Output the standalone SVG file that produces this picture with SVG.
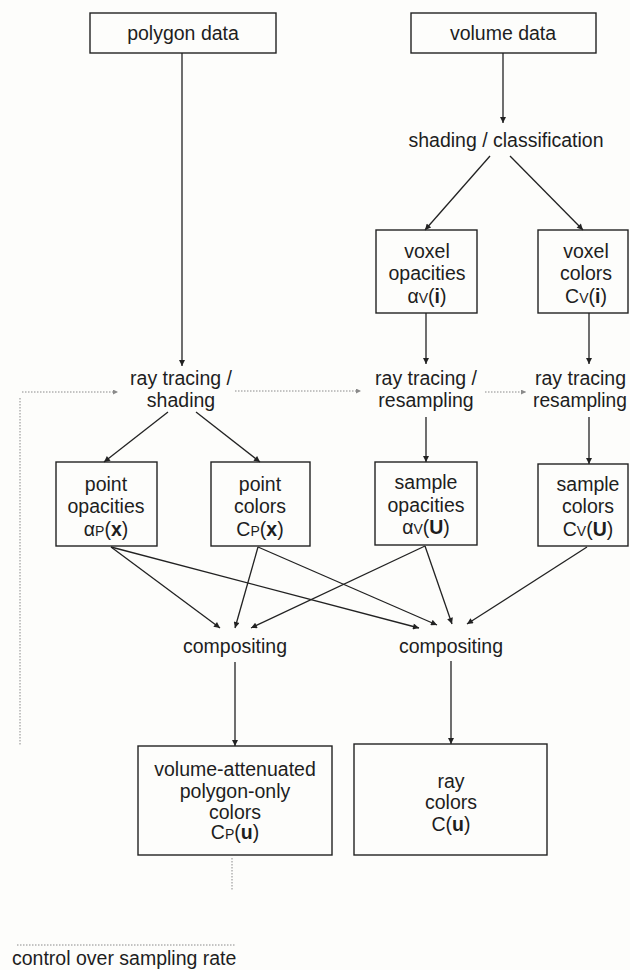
<svg xmlns="http://www.w3.org/2000/svg" width="630" height="970" viewBox="0 0 630 970">
  <style>
    text { font-family: "Liberation Sans", Arial, Helvetica, sans-serif; font-size: 19.5px; fill: #1e1e1e; text-anchor: middle; }
    .box { fill: none; stroke: #222; stroke-width: 1.4; }
    .edge { fill: none; stroke: #222; stroke-width: 1.3; }
    .dot { fill: none; stroke: #8a8a8a; stroke-width: 1; stroke-dasharray: 1.5 1.5; }
    .sub { font-size: 14px; }
    .b { font-weight: bold; }
  </style>
  <defs>
    <marker id="arr" viewBox="0 0 10 10" refX="10" refY="5" markerWidth="9" markerHeight="6" markerUnits="userSpaceOnUse" orient="auto">
      <path d="M0,0 L10,5 L0,10 z" fill="#222"/>
    </marker>
    <marker id="arrg" viewBox="0 0 10 10" refX="10" refY="5" markerWidth="6" markerHeight="5" markerUnits="userSpaceOnUse" orient="auto">
      <path d="M0,0 L10,5 L0,10 z" fill="#8a8a8a"/>
    </marker>
  </defs>
  <rect width="630" height="970" fill="#fdfdfb"/>

  <g id="connectors">
    <line class="edge" x1="182" y1="53" x2="182" y2="366" marker-end="url(#arr)"/>
    <line class="edge" x1="503" y1="53" x2="503" y2="123" marker-end="url(#arr)"/>
    <line class="edge" x1="490" y1="156" x2="425" y2="230" marker-end="url(#arr)"/>
    <line class="edge" x1="510" y1="156" x2="583" y2="230" marker-end="url(#arr)"/>
    <line class="edge" x1="426" y1="313" x2="426" y2="364" marker-end="url(#arr)"/>
    <line class="edge" x1="589" y1="313" x2="589" y2="364" marker-end="url(#arr)"/>
    <line class="edge" x1="168" y1="412" x2="104" y2="462" marker-end="url(#arr)"/>
    <line class="edge" x1="196" y1="412" x2="260" y2="462" marker-end="url(#arr)"/>
    <line class="edge" x1="426" y1="417" x2="426" y2="462" marker-end="url(#arr)"/>
    <line class="edge" x1="589" y1="417" x2="589" y2="464" marker-end="url(#arr)"/>
    <line class="edge" x1="111" y1="547" x2="220" y2="628" marker-end="url(#arr)"/>
    <line class="edge" x1="111" y1="547" x2="419" y2="628" marker-end="url(#arr)"/>
    <line class="edge" x1="258" y1="547" x2="235" y2="628" marker-end="url(#arr)"/>
    <line class="edge" x1="258" y1="547" x2="437" y2="625" marker-end="url(#arr)"/>
    <line class="edge" x1="425" y1="546" x2="251" y2="628" marker-end="url(#arr)"/>
    <line class="edge" x1="425" y1="546" x2="452" y2="624" marker-end="url(#arr)"/>
    <line class="edge" x1="587" y1="547" x2="467" y2="624" marker-end="url(#arr)"/>
    <line class="edge" x1="235" y1="662" x2="235" y2="746" marker-end="url(#arr)"/>
    <line class="edge" x1="451" y1="661" x2="451" y2="744" marker-end="url(#arr)"/>
    <line class="dot" x1="22" y1="392" x2="118" y2="392" marker-end="url(#arrg)"/>
    <line class="dot" x1="235" y1="391" x2="361" y2="391" marker-end="url(#arrg)"/>
    <line class="dot" x1="485" y1="392" x2="526" y2="392" marker-end="url(#arrg)"/>
    <line class="dot" x1="20" y1="398" x2="20" y2="745"/>
    <line class="dot" x1="232" y1="858" x2="232" y2="890"/>
    <line class="dot" x1="17" y1="945" x2="235" y2="945"/>
  </g>

  <g id="polygon-data">
    <rect class="box" x="90" y="13" width="186" height="40"/>
    <text x="183" y="40">polygon data</text>
  </g>
  <g id="volume-data">
    <rect class="box" x="411" y="13" width="185" height="40"/>
    <text x="503" y="40">volume data</text>
  </g>
  <g id="shading-classification">
    <text x="506" y="147">shading / classification</text>
  </g>
  <g id="voxel-opacities">
    <rect class="box" x="376" y="230" width="101" height="83"/>
    <text x="427" y="258">voxel</text>
    <text x="427" y="280">opacities</text>
    <text x="427" y="303">α<tspan class="sub">V</tspan>(<tspan class="b">i</tspan>)</text>
  </g>
  <g id="voxel-colors">
    <rect class="box" x="538" y="230" width="90" height="83"/>
    <text x="586" y="258">voxel</text>
    <text x="586" y="280">colors</text>
    <text x="586" y="303">C<tspan class="sub">V</tspan>(<tspan class="b">i</tspan>)</text>
  </g>
  <g id="ray-tracing-shading">
    <text x="181" y="385">ray tracing /</text>
    <text x="181" y="407">shading</text>
  </g>
  <g id="ray-tracing-resampling-1">
    <text x="426" y="385">ray tracing /</text>
    <text x="426" y="407">resampling</text>
  </g>
  <g id="ray-tracing-resampling-2">
    <text x="535" y="385" style="text-anchor:start">ray tracing</text>
    <text x="533" y="407" style="text-anchor:start" textLength="94" lengthAdjust="spacingAndGlyphs">resampling</text>
  </g>
  <g id="point-opacities">
    <rect class="box" x="56" y="462" width="101" height="84"/>
    <text x="106" y="491">point</text>
    <text x="106" y="513">opacities</text>
    <text x="106" y="536">α<tspan class="sub">P</tspan>(<tspan class="b">x</tspan>)</text>
  </g>
  <g id="point-colors">
    <rect class="box" x="211" y="462" width="99" height="84"/>
    <text x="260" y="491">point</text>
    <text x="260" y="513">colors</text>
    <text x="260" y="536">C<tspan class="sub">P</tspan>(<tspan class="b">x</tspan>)</text>
  </g>
  <g id="sample-opacities">
    <rect class="box" x="375" y="462" width="102" height="83"/>
    <text x="426" y="489">sample</text>
    <text x="426" y="512">opacities</text>
    <text x="426" y="534">α<tspan class="sub">V</tspan>(<tspan class="b">U</tspan>)</text>
  </g>
  <g id="sample-colors">
    <rect class="box" x="538" y="464" width="90" height="82"/>
    <text x="588" y="491">sample</text>
    <text x="588" y="513">colors</text>
    <text x="588" y="536">C<tspan class="sub">V</tspan>(<tspan class="b">U</tspan>)</text>
  </g>
  <g id="compositing-1">
    <text x="235" y="653">compositing</text>
  </g>
  <g id="compositing-2">
    <text x="451" y="653">compositing</text>
  </g>
  <g id="polygon-only-colors">
    <rect class="box" x="138" y="746" width="194" height="109"/>
    <text x="235" y="776">volume-attenuated</text>
    <text x="235" y="798">polygon-only</text>
    <text x="235" y="819">colors</text>
    <text x="235" y="839">C<tspan class="sub">P</tspan>(<tspan class="b">u</tspan>)</text>
  </g>
  <g id="ray-colors">
    <rect class="box" x="354" y="744" width="193" height="111"/>
    <text x="451" y="788">ray</text>
    <text x="451" y="809">colors</text>
    <text x="451" y="831">C(<tspan class="b">u</tspan>)</text>
  </g>
  <g id="legend">
    <text x="12" y="965" style="text-anchor:start">control over sampling rate</text>
  </g>
</svg>
